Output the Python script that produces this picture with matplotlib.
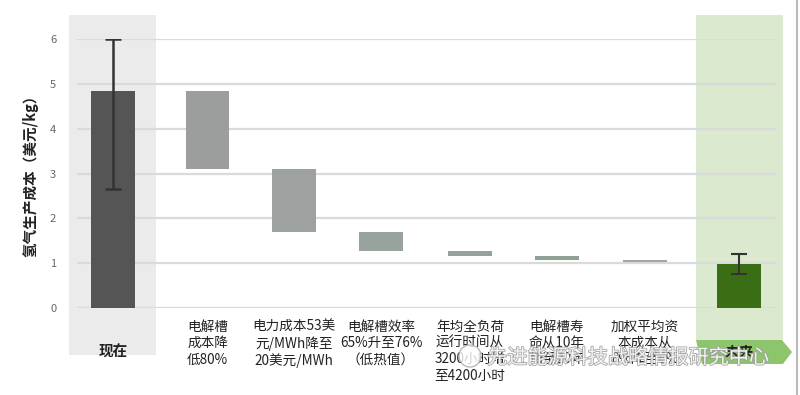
import matplotlib
matplotlib.use("Agg")
import matplotlib.pyplot as plt
import matplotlib.patheffects as pe
from matplotlib.patches import Rectangle, Polygon

plt.rcParams['font.family'] = ['Noto Sans CJK SC', 'DejaVu Sans']

# ---- data ----
categories = ["现在",
              "电解槽\n成本降\n低80%",
              "电力成本53美\n元/MWh降至\n20美元/MWh",
              "电解槽效率\n65%升至76%\n（低热值）",
              "年均全负荷\n运行时间从\n3200小时增\n至4200小时",
              "电解槽寿\n命从10年\n增至20年",
              "加权平均资\n本成本从\n8%降至6%",
              "未来"]
start_value = 4.85
start_err_low = 2.65
start_err_high = 6.0
reductions = [1.75, 1.40, 0.43, 0.11, 0.10, 0.04]
end_value = 0.98
end_err_low = 0.76
end_err_high = 1.20
yticks = [0, 1, 2, 3, 4, 5, 6]
ylabel = "氢气生产成本（美元/kg）"
watermark = "先进能源科技战略情报研究中心"

# ---- layout ----
W, H = 800, 395
fig = plt.figure(figsize=(8, 3.95), dpi=100)
x0_px, x1_px = 77, 776
y0_px, y6_px = 308, 39
ax = fig.add_axes([x0_px / W, 1 - y0_px / H, (x1_px - x0_px) / W, (y0_px - y6_px) / H])
ux = (739 - 113) / 7.0
uy = (y0_px - y6_px) / 6.0
ax.set_xlim((x0_px - 113) / ux, (x1_px - 113) / ux)
ax.set_ylim(0, 6)

def px2x(p):
    return (p - 113) / ux

def py2y(p):
    return (y0_px - p) / uy

# slot positions (layout) of the eight columns
slot_px = [113, 207.5, 294, 381, 470, 557, 645, 739]
xs = [px2x(p) for p in slot_px]

# background panels
ax.add_patch(Rectangle((px2x(69), py2y(355)), px2x(156) - px2x(69), py2y(15) - py2y(355),
                       facecolor="#ebebeb", edgecolor="none", clip_on=False, zorder=0))
ax.add_patch(Rectangle((px2x(696), py2y(340)), px2x(783) - px2x(696), py2y(15) - py2y(340),
                       facecolor="#dbe9cf", edgecolor="none", clip_on=False, zorder=0))
ax.add_patch(Polygon([(px2x(696), py2y(340)), (px2x(782), py2y(340)), (px2x(792), py2y(352)),
                      (px2x(783), py2y(364)), (px2x(702), py2y(364))],
                     closed=True, facecolor="#8dc56c", edgecolor="none", clip_on=False, zorder=0))

# gridlines
for t in yticks:
    ax.axhline(t, color="#dadada", lw=1.6, zorder=1)

width = 43.5 / ux
n = len(categories)

# start bar
ax.bar(xs[0], start_value, width=width, color="#555555", zorder=3)
ax.errorbar(xs[0], start_value,
            yerr=[[start_value - start_err_low], [start_err_high - start_value]],
            fmt="none", ecolor="#333333", elinewidth=1.8, capsize=5.8, capthick=1.8, zorder=4)

# waterfall bars
mid_colors = ["#9b9e9c", "#9da19f", "#98a39e", "#95a29b", "#8fa193", "#a1a89f"]
level = start_value
for i, r in enumerate(reductions):
    ax.bar(xs[i + 1], r, bottom=level - r, width=width, color=mid_colors[i], zorder=3)
    level -= r

# end bar
ax.bar(xs[-1], end_value, width=width, color="#3b6e14", zorder=3)
ax.errorbar(xs[-1], end_value,
            yerr=[[end_value - end_err_low], [end_err_high - end_value]],
            fmt="none", ecolor="#333333", elinewidth=1.5, capsize=5.5, capthick=1.5, zorder=4)

# axes styling
for s in ax.spines.values():
    s.set_visible(False)
ax.set_xticks([])
ax.set_yticks(yticks)
ax.set_yticklabels([str(t) for t in yticks], color="#666666", fontsize=8)
ax.tick_params(axis="y", length=0, pad=15)

# category labels
ax.text(xs[0], py2y(352), categories[0], ha="center", va="center", fontsize=10.5,
        fontweight="bold", color="#222222", clip_on=False)
for i in range(1, n - 1):
    ax.text(xs[i], py2y(320), categories[i], ha="center", va="top", fontsize=9.8,
            color="#222222", linespacing=1.2, clip_on=False)
ax.text(xs[-1], py2y(352), categories[-1], ha="center", va="center", fontsize=10.5,
        fontweight="bold", color="#222222", clip_on=False)

fig.text(30 / W, 1 - 172 / H, ylabel, rotation=90, ha="center", va="center",
         fontsize=10.5, fontweight="bold", color="#222222")

# watermark
circ = plt.Circle((470, H - 356), 11, transform=None, facecolor="white",
                  edgecolor="#aaaaaa", lw=1.0, alpha=0.8)
fig.patches.append(circ)
wm = fig.text(628 / W, 1 - 358 / H, watermark, ha="center", va="center", fontsize=14.5,
              color="white", alpha=0.85)
wm.set_path_effects([pe.withStroke(linewidth=1.2, foreground="#9a9a9a")])

# right border line
fig.add_artist(plt.Line2D([797 / W, 797 / W], [0, 1], color="#bbbbbb", lw=1.5,
                          transform=fig.transFigure))

fig.savefig("out.png", dpi=100)
